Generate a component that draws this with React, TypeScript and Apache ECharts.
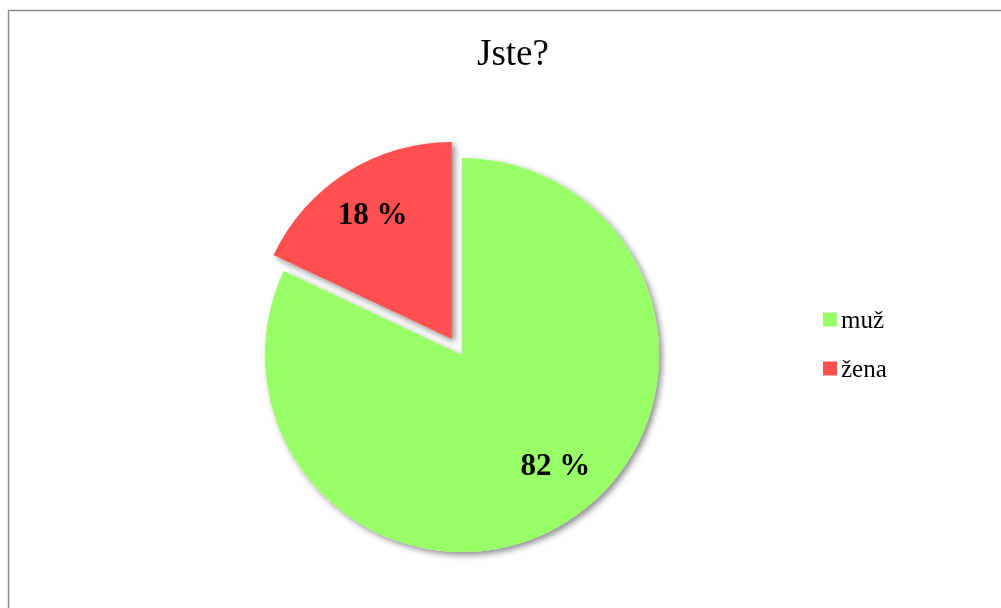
import React, { useEffect, useRef } from "react";
import * as echarts from "echarts";

const categories = ["muž", "žena"];
const values = [82, 18];
const colors = ["#99FF66", "#FF5050"];
const titleText = "Jste?";

const SERIF = "serif";

export default function App() {
  const ref = useRef<HTMLDivElement>(null);
  useEffect(() => {
    if (!ref.current) return;
    const chart = echarts.init(ref.current, undefined, { renderer: "svg" });
    const center = [462, 355];
    const data = categories.map((name, i) => ({
      name,
      value: values[i],
      selected: i === 1,
      itemStyle: { color: colors[i] },
    }));
    const labelData = categories.map((name, i) => ({
      name,
      value: values[i],
      selected: i === 1,
      label: { offset: i === 0 ? [14, -15] : [-7, 2] },
    }));
    chart.setOption({
      animation: false,
      title: {
        text: titleText,
        left: 508,
        top: 29,
        textAlign: "center",
        textStyle: { fontFamily: SERIF, fontSize: 37, fontWeight: "normal", color: "#000" },
      },
      graphic: [
        {
          type: "rect",
          shape: { x: 8.5, y: 10.5, width: 1100, height: 700 },
          style: { fill: "none", stroke: "#8c8c8c", lineWidth: 1.5 },
          silent: true,
        },
      ],
      legend: {
        orient: "vertical",
        left: 818,
        top: 302,
        itemWidth: 14,
        itemHeight: 14,
        itemGap: 24,
        icon: "rect",
        selectedMode: false,
        data: categories.map((name, i) => ({ name, itemStyle: { color: colors[i] } })),
        textStyle: { fontFamily: SERIF, fontSize: 25, color: "#000", padding: [0, 0, 0, -1] },
      },
      series: [
        {
          type: "pie",
          center,
          radius: [0, 197],
          startAngle: 90,
          clockwise: true,
          selectedMode: "single",
          selectedOffset: 19,
          silent: true,
          label: { show: false },
          labelLine: { show: false },
          itemStyle: {
            shadowBlur: 6,
            shadowOffsetX: 3,
            shadowOffsetY: 3,
            shadowColor: "rgba(0,0,0,0.45)",
          },
          emphasis: { disabled: true },
          data,
        },
        {
          type: "pie",
          center,
          radius: [0, 290],
          startAngle: 90,
          clockwise: true,
          selectedMode: "single",
          selectedOffset: 19,
          silent: true,
          legendHoverLink: false,
          itemStyle: { color: "rgba(0,0,0,0)" },
          label: {
            show: true,
            position: "inside",
            formatter: "{d} %",
            fontFamily: SERIF,
            fontSize: 31,
            fontWeight: "bold",
            color: "#000",
          },
          labelLine: { show: false },
          emphasis: { disabled: true },
          data: labelData,
        },
      ],
    });
    return () => chart.dispose();
  }, []);
  return (
    <div
      ref={ref}
      style={{ position: "fixed", left: 0, top: 0, width: 1001, height: 608 }}
    />
  );
}
